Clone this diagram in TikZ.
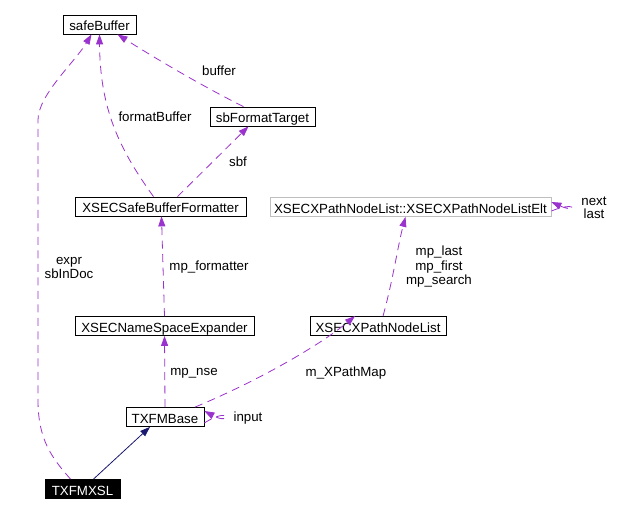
\documentclass[tikz,border=0pt]{standalone}
\usepackage{fontspec}
\setmainfont{Liberation Sans}
\usetikzlibrary{arrows.meta}
\definecolor{edgepurple}{HTML}{9A32CD}
\definecolor{edgenavy}{HTML}{191970}
\definecolor{boxgray}{HTML}{BFBFBF}
\begin{document}
\begin{tikzpicture}[x=1pt,y=-1pt,
  cls/.style={draw=black, line width=0.8pt, fill=white, text=black,
    font=\fontsize{13.3}{15}\selectfont, inner sep=0pt, minimum height=19pt,
    text height=13pt, text depth=0.6pt, anchor=center},
  grayc/.style={cls, draw=boxgray},
  curc/.style={cls, fill=black, text=white},
  lbl/.style={font=\fontsize{13.3}{13.5}\selectfont, inner sep=0pt, align=center, anchor=center},
  uses/.style={draw=edgepurple, line width=0.8pt, dash pattern=on 8pt off 5.5pt,
    -{Triangle[length=10pt,width=7pt,fill=edgepurple]}},
  inh/.style={draw=edgenavy, line width=0.8pt, -{Triangle[length=10pt,width=7pt,fill=edgenavy]}}
]
\useasboundingbox (0,0) rectangle (624,513);
\fill[white] (0,0) rectangle (624,513);

% nodes
\node[cls, minimum width=73pt] (sb) at (99.5,24.5) {safeBuffer};
\node[cls, minimum width=105pt] (sft) at (262.5,116.5) {sbFormatTarget};
\node[cls, minimum width=171pt] (sbf) at (160.5,206.5) {XSECSafeBufferFormatter};
\node[grayc, minimum width=281pt] (elt) at (410.5,207) {XSECXPathNodeList::XSECXPathNodeListElt};
\node[cls, minimum width=179pt] (nse) at (164.5,326) {XSECNameSpaceExpander};
\node[cls, minimum width=136pt] (xpl) at (378,326) {XSECXPathNodeList};
\node[cls, minimum width=78pt] (base) at (165,417) {TXFMBase};
\node[curc, minimum width=75pt] (xsl) at (82.5,489) {TXFMXSL};

% edges
\draw[uses] ([xshift=-12pt]xsl.north) .. controls (52,458) and (38,440) .. (38,400)
   -- (38,120) .. controls (38,95) and (75,62) .. ([xshift=-8pt]sb.south);
\draw[uses] ([xshift=-7pt]sbf.north) .. controls (120,150) and (100,110) .. (sb.south);
\draw[uses] ([xshift=-19pt]sft.north) .. controls (200,85) and (150,55) .. ([xshift=18pt]sb.south);
\draw[uses] ([xshift=17pt]sbf.north) -- ([xshift=-14pt]sft.south);
\draw[uses] (nse.north) -- ([xshift=1pt]sbf.south);
\draw[uses] (base.north) -- (nse.south);
\draw[uses] ([xshift=30pt]base.north) .. controls (260,380) and (320,345) .. ([xshift=-23pt]xpl.north);
\draw[uses] ([xshift=5pt]xpl.north) .. controls (393,280) and (398,245) .. ([xshift=-5pt]elt.south);
\draw[uses] ([yshift=-6pt]base.east) .. controls (232,405) and (232,426) .. ([yshift=6pt]base.east);
\draw[uses] ([yshift=-4pt]elt.east) .. controls (578,200) and (578,214) .. ([yshift=5pt]elt.east);
\draw[inh] ([xshift=11pt]xsl.north) -- ([xshift=-15pt]base.south);

% labels
\node[lbl] (lbuf) at (219,71) {buffer};
\node[lbl] (lfmt) at (155,117) {formatBuffer};
\node[lbl] (lsbf) at (238,162) {sbf};
\node[lbl] (lexpr) at (69,268) {expr\\sbInDoc};
\node[lbl] (lmpf) at (209,267) {mp\_formatter};
\node[lbl] (lnse) at (194,373) {mp\_nse};
\node[lbl] (lxpm) at (346,373) {m\_XPathMap};
\node[lbl] (linp) at (248,418) {input};
\node[lbl, font=\fontsize{13.3}{14.5}\selectfont] (lmp) at (439,267) {mp\_last\\mp\_first\\mp\_search};
\node[lbl, font=\fontsize{13.3}{13}\selectfont] (lnext) at (594,207.5) {next\\last};
\end{tikzpicture}
\end{document}
